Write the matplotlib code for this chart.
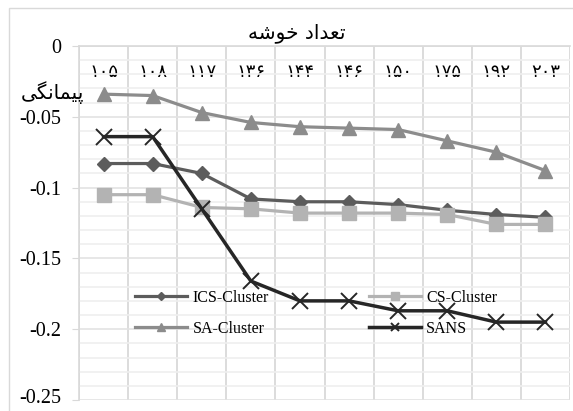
import numpy as np
import matplotlib.pyplot as plt
import matplotlib.transforms as mtransforms
from matplotlib.patches import Rectangle

# cluster counts (Persian digits) and modularity values per method
clusters = ['۱۰۵', '۱۰۸', '۱۱۷', '۱۳۶', '۱۴۴', '۱۴۶', '۱۵۰', '۱۷۵', '۱۹۲', '۲۰۳']
ics_cluster = [-0.083, -0.083, -0.090, -0.108, -0.110, -0.110, -0.112, -0.116, -0.119, -0.121]
cs_cluster = [-0.105, -0.105, -0.114, -0.115, -0.118, -0.118, -0.118, -0.119, -0.126, -0.126]
sa_cluster = [-0.034, -0.035, -0.047, -0.054, -0.057, -0.058, -0.059, -0.067, -0.075, -0.088]
sans = [-0.064, -0.064, -0.115, -0.166, -0.180, -0.180, -0.187, -0.187, -0.195, -0.195]

# pre-shaped Persian titles (presentation forms, visual order)
x_title = '\uFEEA\uFEB7\uFEEE\uFEA7 \uFEA9\uFE8D\uFEAA\uFECC\uFE97'   # تعداد خوشه
y_title = '\uFBFD\uFB95\uFEE7\uFE8E\uFEE4\uFBFF\uFB58'               # پیمانگی

SERIF = ['Liberation Serif', 'DejaVu Serif']
ARABIC = ['DejaVu Sans']

fig = plt.figure(figsize=(5.73, 4.11), dpi=100)
fig.patches.append(Rectangle((9 / 573, -0.1), 1.2, (411 - 8) / 411 + 0.1,
                             transform=fig.transFigure, fill=False,
                             edgecolor='#d9d9d9', lw=1.0))
ax = fig.add_axes([79 / 573, 11 / 411, 491 / 573, 354 / 411])

x = np.arange(len(clusters))
l_sa, = ax.plot(x, sa_cluster, color='#8c8c8c', lw=2.3, marker='^', ms=9.5, label='SA-Cluster', zorder=3)
l_ics, = ax.plot(x, ics_cluster, color='#5c5c5c', lw=2.3, marker='D', ms=7.5, label='ICS-Cluster', zorder=4)
l_cs, = ax.plot(x, cs_cluster, color='#b3b3b3', lw=2.3, marker='s', ms=9.5, label='CS-Cluster', zorder=5)
l_sans, = ax.plot(x, sans, color='#262626', lw=2.5, marker='x', ms=11, mew=1.4, label='SANS', zorder=6)

ax.set_xlim(-0.5, len(clusters) - 0.5)
ax.set_ylim(-0.25, 0)
ax.set_yticks(np.arange(-0.25, 0.001, 0.05))
ax.set_yticklabels(['-0.25', '-0.2', '-0.15', '-0.1', '-0.05', '0'], family=SERIF, fontsize=14.5)
ax.set_yticks(np.arange(-0.25, 0.001, 0.01), minor=True)
ax.tick_params(axis='y', which='major', length=5, color='#d9d9d9', pad=8)
ax.tick_params(axis='y', which='minor', length=0)

# keep the lowest label inside the canvas
lowest = ax.get_yticklabels()[0]
lowest.set_transform(lowest.get_transform() +
                     mtransforms.ScaledTranslation(0, 3 / 72, fig.dpi_scale_trans))

ax.set_xticks(x)
ax.set_xticklabels(clusters, family=ARABIC, fontsize=13)
ax.set_xticks(np.arange(-0.5, len(clusters)), minor=True)
ax.xaxis.set_ticks_position('top')
ax.tick_params(axis='x', which='both', length=0, pad=-25)

ax.grid(True, which='minor', axis='y', color='#efefef', lw=1.2, zorder=0)
ax.grid(True, which='major', axis='y', color='#e3e3e3', lw=1.2, zorder=0)
ax.grid(True, which='minor', axis='x', color='#d9d9d9', lw=1.3, zorder=0)
ax.set_axisbelow(True)
for s in ['right', 'bottom']:
    ax.spines[s].set_visible(False)
ax.spines['left'].set_color('#d9d9d9')
ax.spines['top'].set_color('#d9d9d9')
ax.spines['left'].set_linewidth(1.2)
ax.spines['top'].set_linewidth(1.2)

leg = ax.legend(handles=[l_ics, l_sa, l_cs, l_sans], ncol=2, frameon=False,
                loc='upper left', bbox_to_anchor=(0.085, 0.352),
                prop={'family': SERIF, 'size': 11.5}, handlelength=3.25,
                markerscale=0.55, columnspacing=6.25, labelspacing=0.95,
                handletextpad=0.35)

fig.text(297 / 573, 1 - 33 / 411, x_title, family=ARABIC, fontsize=14.5,
         ha='center', va='center')
fig.text(52 / 573, 1 - 93 / 411, y_title, family=ARABIC, fontsize=14.5,
         ha='center', va='center')

fig.savefig('out.png', dpi=100)
